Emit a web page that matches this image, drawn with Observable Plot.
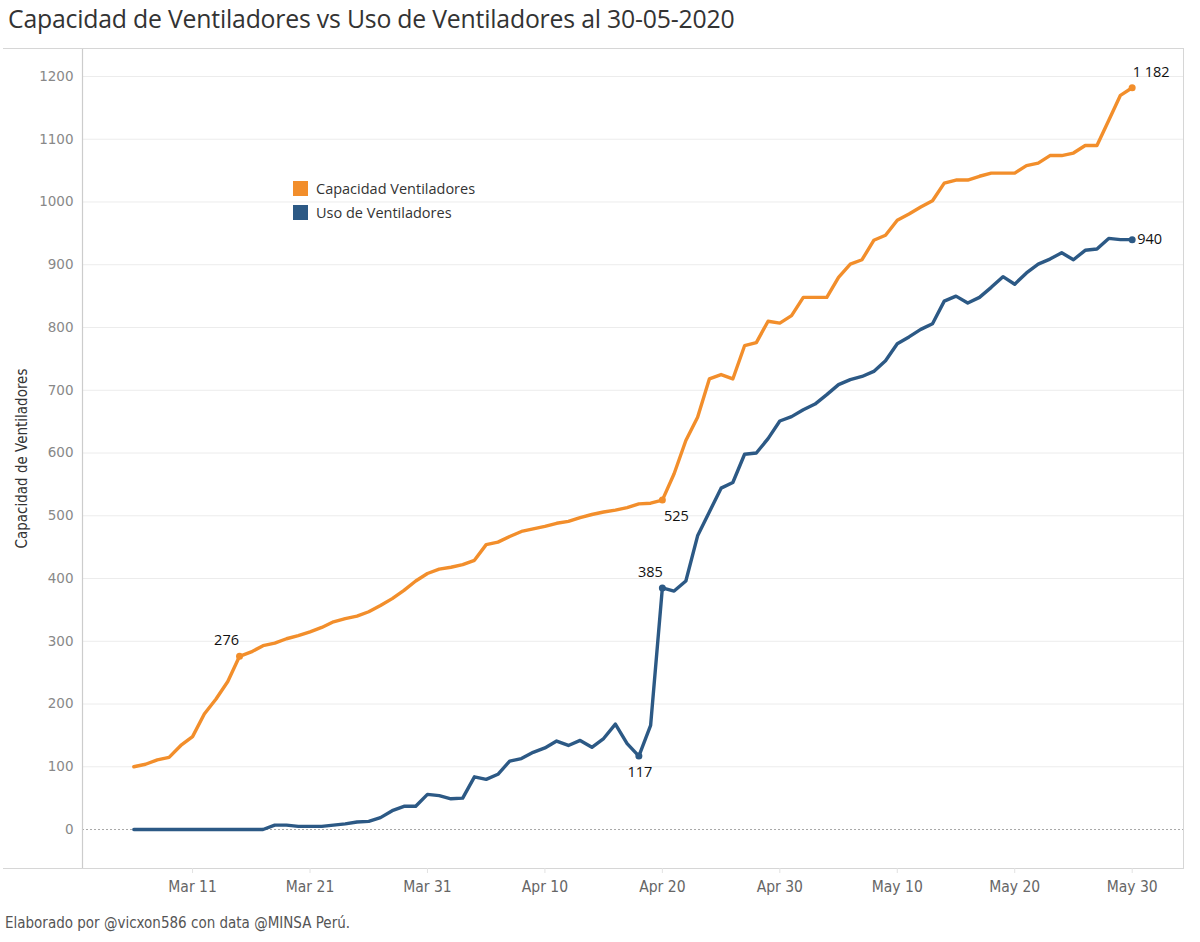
<!DOCTYPE html>
<html>
<head>
<meta charset="utf-8">
<script src="https://cdn.jsdelivr.net/npm/d3@7"></script>
<script src="https://cdn.jsdelivr.net/npm/@observablehq/plot@0.6"></script>
<style>
  html, body { margin: 0; padding: 0; background: #fff; }
  #wrap { position: relative; width: 1200px; height: 942px; overflow: hidden; }
  #title { position: absolute; left: 8px; top: 1px; font-family: "Open Sans", sans-serif; font-size: 24.8px; color: #333; white-space: nowrap; letter-spacing: -0.2px; }
  #chart { position: absolute; left: 0; top: 48px; }
  #caption { position: absolute; left: 5px; top: 914px; font-family: "Liberation Sans Narrow", "DejaVu Sans Condensed", sans-serif; font-size: 15px; color: #555; white-space: nowrap; }
  #legend { position: absolute; left: 293px; top: 176px; font-family: "Open Sans", sans-serif; font-size: 14.5px; color: #333; }
  .lg { display: flex; align-items: center; height: 24px; }
  .sw { width: 15px; height: 15px; margin-right: 8px; }
  .ext { position: absolute; left: 3px; width: 80px; height: 0; border-top: 1px solid #d6d6d6; }
</style>
</head>
<body>
<div id="wrap">
  <div id="title">Capacidad de Ventiladores vs Uso de Ventiladores al 30-05-2020</div>
  <div id="chart"></div>
  <div class="ext" style="top:47.5px"></div>
  <div class="ext" style="top:867.5px"></div>
  <div id="legend"></div>
  <div id="caption">Elaborado por @vicxon586 con data @MINSA Perú.</div>
</div>
<script>
// ---- data ----
const firstDate = "2020-03-06";
const lastDate = "2020-05-30";
const seriesNames = ["Capacidad Ventiladores", "Uso de Ventiladores"];
const seriesColors = ["#f28e2b", "#2c5985"];
const capacidad = [
  100, 104, 111, 115, 134, 148, 184, 208, 236, 276,
  283, 293, 297, 304, 309, 315, 322, 331, 336, 340,
  347, 357, 368, 381, 396, 408,
  415, 418, 422, 429, 454, 458, 467, 475, 479, 483,
  488, 491, 497, 502, 506, 509, 513, 519, 520, 525,
  567, 620, 657, 718, 725, 718, 771, 776, 810, 807,
  819, 848, 848, 848, 880, 901, 908, 939, 947, 971,
  981, 992, 1002, 1030, 1035, 1035, 1041, 1046, 1046, 1046,
  1058, 1062, 1074, 1074, 1078, 1090, 1090, 1130, 1170, 1182
];
const uso = [
  0, 0, 0, 0, 0, 0, 0, 0, 0, 0,
  0, 0, 7, 7, 5, 5, 5, 7, 9, 12,
  13, 19, 30, 37, 37, 56,
  54, 49, 50, 84, 80, 88, 109, 113, 123, 130,
  141, 134, 142, 131, 145, 168, 137, 117, 166, 385,
  380, 396, 468, 506, 544, 553, 598, 600, 623, 651,
  658, 669, 678, 693, 709, 717, 722, 730, 747, 774,
  785, 797, 806, 842, 850, 839, 848, 864, 881, 869,
  887, 901, 909, 919, 908, 923, 925, 942, 940, 940
];
const xTickDates = ["2020-03-11", "2020-03-21", "2020-03-31", "2020-04-10", "2020-04-20", "2020-04-30", "2020-05-10", "2020-05-20", "2020-05-30"];
const yTicks = [0, 100, 200, 300, 400, 500, 600, 700, 800, 900, 1000, 1100, 1200];
const yTitle = "Capacidad de Ventiladores";
// labelled points
const capLabelDates = ["2020-03-15", "2020-04-20", "2020-05-30"];
const usoLabelDates = ["2020-04-18", "2020-04-20", "2020-05-30"];

// ---- build table ----
const parse = d3.utcParse("%Y-%m-%d");
const dates = d3.utcDay.range(parse(firstDate), d3.utcDay.offset(parse(lastDate), 1));
const rows = [];
dates.forEach((d, i) => {
  rows.push({date: d, value: capacidad[i], series: seriesNames[0]});
});
dates.forEach((d, i) => {
  rows.push({date: d, value: uso[i], series: seriesNames[1]});
});
const key = d => d3.utcFormat("%Y-%m-%d")(d.date);
const pick = (name, ds) => rows.filter(r => r.series === name && ds.includes(key(r)));
const fmt = d3.formatLocale({decimal: ",", thousands: " ", grouping: [3], currency: ["", ""]}).format(",d");

const pad = 4.37 * 864e5;
const xDomain = [new Date(+parse(firstDate) - pad), new Date(+parse(lastDate) + pad)];
const yDomain = [-62.1, 1244.6];

const lab = {fontFamily: "'Open Sans', sans-serif", fontSize: 14.5, fill: "#111"};

const capPts = pick(seriesNames[0], capLabelDates);
const usoPts = pick(seriesNames[1], usoLabelDates);
const byKey = (arr, k) => arr.filter(r => key(r) === k);

const plot = Plot.plot({
  width: 1200,
  height: 860,
  marginLeft: 82,
  marginRight: 17,
  marginTop: 0,
  marginBottom: 40,
  style: {fontFamily: "'Open Sans', sans-serif", background: "#fff", overflow: "visible"},
  x: {type: "utc", domain: xDomain, label: null, axis: null},
  y: {domain: yDomain, label: null, axis: null},
  color: {domain: seriesNames, range: seriesColors},
  marks: [
    Plot.gridY(yTicks.filter(v => v !== 0), {stroke: "#ececec", strokeOpacity: 1, strokeWidth: 1}),
    Plot.ruleY([0], {stroke: "#a8a8a8", strokeDasharray: "2,2", strokeWidth: 1}),
    Plot.frame({stroke: "#d6d6d6", strokeWidth: 1}),
    Plot.ruleX([xDomain[0]], {stroke: "#cccccc", strokeWidth: 1.2}),
    Plot.axisY(yTicks, {tickSize: 0, tickPadding: 9, fontSize: 13.5, fill: "#888", fontFamily: "'DejaVu Sans', sans-serif", tickFormat: d => String(d), label: null}),
    Plot.axisX(xTickDates.map(parse), {tickSize: 5, tickPadding: 7, stroke: "#e2e2e2", fill: "#666", fontSize: 15.5, fontFamily: "'Liberation Sans Narrow', 'DejaVu Sans Condensed', sans-serif", tickFormat: d3.utcFormat("%b %-d"), label: null}),
    Plot.text([yTitle], {frameAnchor: "left", dx: -60, rotate: -90, textAnchor: "middle", fontSize: 15, fill: "#333", fontFamily: "'Liberation Sans Narrow', 'DejaVu Sans Condensed', sans-serif"}),
    Plot.line(rows, {x: "date", y: "value", z: "series", stroke: "series", strokeWidth: 3.4, curve: "linear", strokeLinejoin: "round", strokeLinecap: "round"}),
    Plot.dot(capPts.concat(usoPts), {x: "date", y: "value", fill: "series", r: 3.5, stroke: null}),
    Plot.text(byKey(capPts, "2020-03-15"), {x: "date", y: "value", text: d => fmt(d.value), dx: -13, dy: -16, ...lab}),
    Plot.text(byKey(capPts, "2020-04-20"), {x: "date", y: "value", text: d => fmt(d.value), dx: 14, dy: 16, ...lab}),
    Plot.text(byKey(capPts, "2020-05-30"), {x: "date", y: "value", text: d => fmt(d.value), dx: 19, dy: -15, ...lab}),
    Plot.text(byKey(usoPts, "2020-04-20"), {x: "date", y: "value", text: d => fmt(d.value), dx: -12, dy: -16, ...lab}),
    Plot.text(byKey(usoPts, "2020-04-18"), {x: "date", y: "value", text: d => fmt(d.value), dx: 1, dy: 16, ...lab}),
    Plot.text(byKey(usoPts, "2020-05-30"), {x: "date", y: "value", text: d => fmt(d.value), dx: 5, textAnchor: "start", ...lab})
  ]
});
document.getElementById("chart").appendChild(plot);

// legend
const legend = document.getElementById("legend");
seriesNames.forEach((n, i) => {
  const row = document.createElement("div");
  row.className = "lg";
  const sw = document.createElement("div");
  sw.className = "sw";
  sw.style.background = seriesColors[i];
  const t = document.createElement("span");
  t.textContent = n;
  row.appendChild(sw);
  row.appendChild(t);
  legend.appendChild(row);
});
</script>
</body>
</html>
